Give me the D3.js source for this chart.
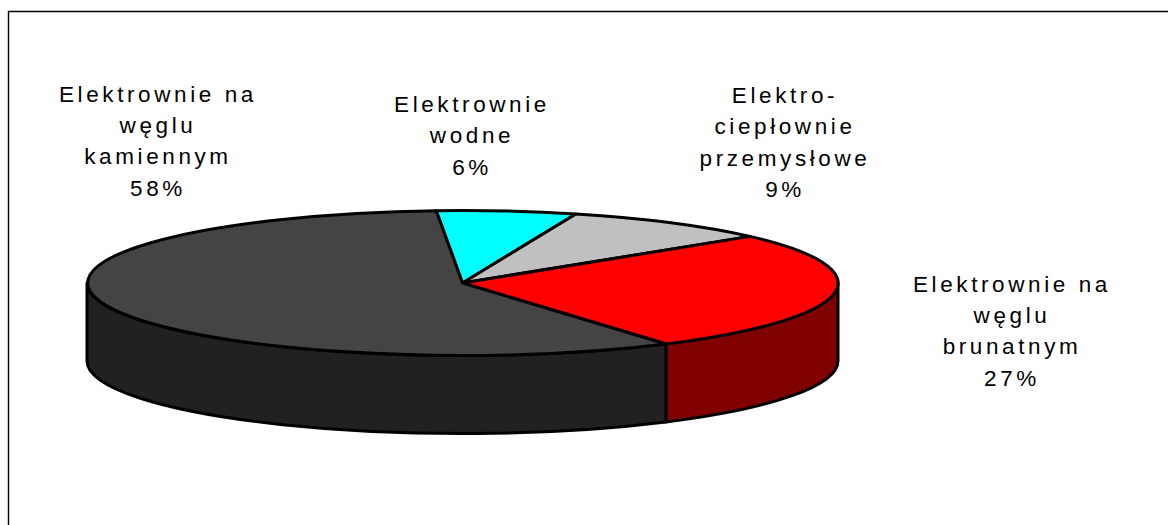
<!DOCTYPE html>
<html lang="pl">
<head>
<meta charset="utf-8">
<script src="https://cdn.jsdelivr.net/npm/d3@7"></script>
<style>
  html, body { margin: 0; padding: 0; background: #fff; }
  svg { display: block; }
  text { font-family: "Liberation Sans", Arial, sans-serif; font-size: 22.5px; letter-spacing: 3.6px; fill: #000; text-anchor: middle; }
</style>
</head>
<body>
<svg id="chart" width="1168" height="525"></svg>
<script>
// Struktura produkcji energii elektrycznej, kolejnosc zgodnie z ruchem wskazowek zegara
const labels = [
  ["Elektrownie", "wodne"],
  ["Elektro-", "ciepłownie", "przemysłowe"],
  ["Elektrownie na", "węglu", "brunatnym"],
  ["Elektrownie na", "węglu", "kamiennym"]
];
const values = [6, 9, 27, 58];
const topColors = ["#00ffff", "#c0c0c0", "#ff0000", "#444444"];
const sideColors = ["#008080", "#808080", "#800000", "#212121"];

// Geometria dysku
const cx = 462.5, cy = 283, rx = 375.5, ry = 72.5, depth = 78;
const startDeg = -4;
const labelX = [472, 785, 1012, 158];
const labelY = [112, 103, 291.5, 101.5];
const lineHeight = 31.4;

const svg = d3.select("#chart");

// Ramka wykresu: tylko lewa i gorna krawedz
svg.append("path")
  .attr("d", "M8.5,525V11.5H1168")
  .attr("fill", "none").attr("stroke", "#000").attr("stroke-width", 1.4);

const rad = d => d * Math.PI / 180;
const pie = d3.pie().sort(null).startAngle(rad(startDeg)).endAngle(rad(startDeg + 360));
const arcs = pie(values);

// Wszystko rysowane w ukladzie kola jednostkowego, rzutowanym na elipse
const disc = svg.append("g").attr("transform", `translate(${cx},${cy}) scale(${rx},${ry})`);
const unitDepth = depth / ry;

// Sciana boczna: tylko czesc lezaca z przodu dysku
function wall(a0, a1) {
  const lo = Math.max(a0, Math.PI / 2), hi = Math.min(a1, 3 * Math.PI / 2);
  if (hi <= lo) return null;
  const p = d3.path();
  const t0 = lo - Math.PI / 2, t1 = hi - Math.PI / 2;
  p.moveTo(Math.cos(t0), Math.sin(t0));
  p.arc(0, 0, 1, t0, t1, false);
  p.lineTo(Math.cos(t1), Math.sin(t1) + unitDepth);
  p.arc(0, unitDepth, 1, t1, t0, true);
  p.closePath();
  return p.toString();
}

disc.selectAll("path.side")
  .data(arcs.filter(d => wall(d.startAngle, d.endAngle)))
  .join("path")
  .attr("class", "side")
  .attr("d", d => wall(d.startAngle, d.endAngle))
  .attr("fill", d => sideColors[d.index]);

const arcGen = d3.arc().innerRadius(0).outerRadius(1);
disc.selectAll("path.top")
  .data(arcs)
  .join("path")
  .attr("class", "top")
  .attr("d", arcGen)
  .attr("fill", d => topColors[d.index]);

disc.selectAll("path")
  .attr("stroke", "#000").attr("stroke-width", 3)
  .attr("stroke-linejoin", "round")
  .attr("vector-effect", "non-scaling-stroke");

// Etykiety: nazwa i udzial procentowy
labels.forEach((lines, i) => {
  const t = svg.append("text").attr("x", labelX[i]).attr("y", labelY[i]);
  lines.concat(values[i] + "%").forEach((s, k) => {
    t.append("tspan").attr("x", labelX[i]).attr("dy", k ? lineHeight : 0).text(s);
  });
});
</script>
</body>
</html>
